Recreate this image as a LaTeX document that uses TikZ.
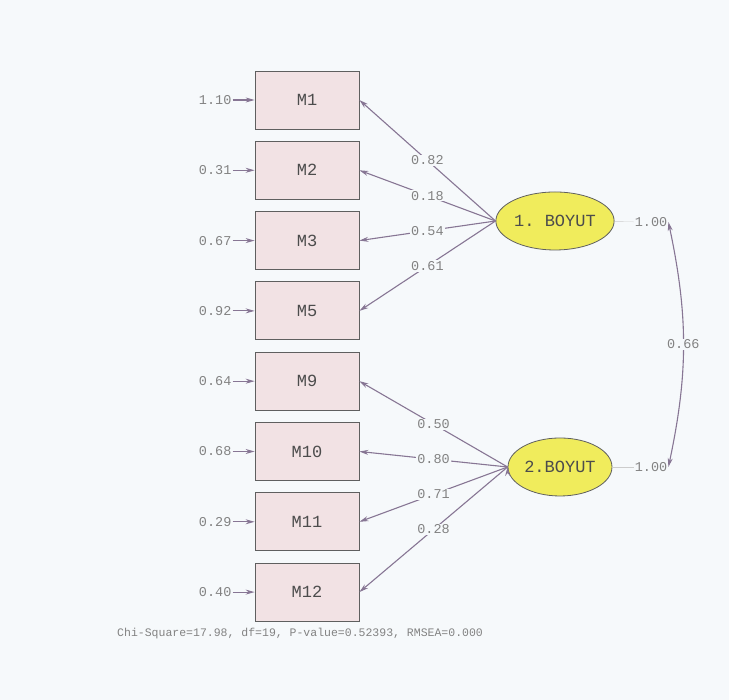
\documentclass[tikz,border=0pt]{standalone}
\usepackage{fontspec}
\setmonofont{Liberation Mono}
\usetikzlibrary{arrows.meta,positioning,shapes.geometric}
\definecolor{bg}{RGB}{246,249,251}
\definecolor{boxfill}{RGB}{242,226,228}
\definecolor{boxline}{RGB}{95,95,95}
\definecolor{yel}{RGB}{240,236,92}
\definecolor{arr}{RGB}{135,118,148}
\definecolor{txt}{RGB}{130,130,130}
\tikzset{
    indic/.style =  {rectangle,
                    fill=boxfill,
                    draw=boxline,
                    text=black!70,
                    thick,
                    minimum width=104pt,
                    minimum height=58pt,
                    font=\ttfamily\fontsize{17}{17}\selectfont},
    latent/.style = {ellipse,
                    fill=yel,
                    draw=boxline,
                    text=black!70,
                    thick,
                    minimum width=104pt,
                    minimum height=58pt,
                    inner sep=1pt,
                    font=\ttfamily\fontsize{17}{17}\selectfont},
    err/.style =    {text=txt,
                    inner sep=1pt,
                    font=\ttfamily\fontsize{13.5}{13.5}\selectfont},
    coef/.style =   {fill=bg,
                    text=txt,
                    inner sep=1pt,
                    font=\ttfamily\fontsize{13.5}{13.5}\selectfont},
    load/.style =   {->,
                    draw=arr,
                    line width=1.1pt},
    >={Stealth[length=9pt,width=5pt]}}

\begin{document}
\begin{tikzpicture}[x=1pt,y=1pt,node distance=70.3pt]
    \useasboundingbox[fill=bg] (0,0) rectangle (729,700);
    % indicators
    \node[indic] (M1)  at (307,600)   {M1};
    \node[indic] (M2)  [below of=M1]  {M2};
    \node[indic] (M3)  [below of=M2]  {M3};
    \node[indic] (M5)  [below of=M3]  {M5};
    \node[indic] (M9)  [below of=M5]  {M9};
    \node[indic] (M10) [below of=M9]  {M10};
    \node[indic] (M11) [below of=M10] {M11};
    \node[indic] (M12) [below of=M11] {M12};
    % error variances
    \foreach \m/\v in {M1/1.10,M2/0.31,M3/0.67,M5/0.92,M9/0.64,M10/0.68,M11/0.29,M12/0.40}{
        \node[err] (e\m) [left=22pt of \m] {\v};
        \draw[load] (e\m) -- (\m);
    }
    % factors
    \node[latent] (B1) at (555,479) {1.~BOYUT};
    \node[latent] (B2) at (560,233) {2.BOYUT};
    \path[load] (B1.west) edge node[coef] {0.82} (M1.east)
                (B1.west) edge node[coef] {0.18} (M2.east)
                (B1.west) edge node[coef] {0.54} (M3.east)
                (B1.west) edge node[coef] {0.61} (M5.east)
                (B2.west) edge node[coef] {0.50} (M9.east)
                (B2.west) edge node[coef] {0.80} (M10.east)
                (B2.west) edge node[coef] {0.71} (M11.east)
                (B2.west) edge node[coef] {0.28} (M12.east);
    % factor variances and covariance
    \node[err] (v1) at (651,478) {1.00};
    \node[err] (v2) at (651,233) {1.00};
    \draw[thin,draw=black!20] (B1) -- (v1);
    \draw[thin,draw=black!20] (B2) -- (v2);
    \draw[<->,draw=arr,line width=1.1pt] (v1.east) to[bend left=12] node[coef] {0.66} (v2.east);
    % fit
    \node[err,anchor=west,font=\ttfamily\fontsize{11.5}{11.5}\selectfont] (fit) at (116,66)
        {Chi-Square=17.98, df=19, P-value=0.52393, RMSEA=0.000};
\end{tikzpicture}
\end{document}
